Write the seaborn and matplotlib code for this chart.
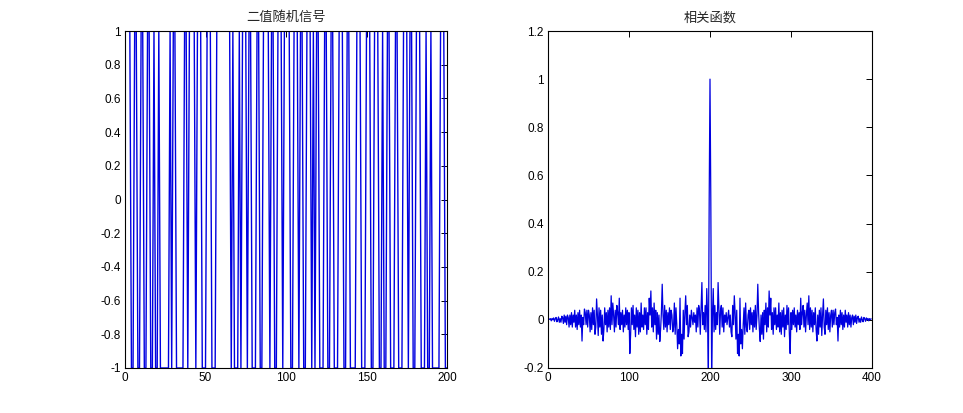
import numpy as np
import pandas as pd
import matplotlib
matplotlib.use("Agg")
import matplotlib.pyplot as plt
import seaborn as sns

# ---------------- data ----------------
left_title = "二值随机信号"
right_title = "相关函数"

# binary random signal, samples 1..200
signal_values = [
    1, 1, 1, -1, -1, 1, 1, -1, -1, 1,
    1, -1, -1, 1, 1, -1, -1, 1, -1, -1,
    1, -1, -1, -1, -1, -1, -1, 1, -1, 1,
    1, -1, -1, -1, -1, -1, 1, 1, -1, 1,
    1, 1, 1, -1, 1, 1, 1, -1, -1, -1,
    1, 1, 1, -1, -1, -1, 1, 1, 1, 1,
    1, 1, 1, 1, 1, -1, 1, -1, -1, -1,
    1, -1, 1, 1, 1, -1, 1, 1, -1, -1,
    -1, 1, 1, -1, -1, 1, 1, 1, 1, -1,
    1, 1, -1, -1, 1, 1, 1, -1, 1, 1,
    1, 1, -1, -1, 1, 1, 1, -1, 1, 1,
    -1, -1, 1, 1, 1, -1, 1, -1, 1, 1,
    -1, -1, -1, 1, 1, -1, -1, 1, 1, -1,
    -1, -1, 1, 1, 1, -1, -1, 1, 1, -1,
    -1, -1, -1, 1, 1, 1, -1, -1, -1, 1,
    1, 1, -1, -1, 1, 1, 1, -1, -1, 1,
    -1, -1, 1, 1, -1, -1, -1, 1, 1, -1,
    -1, -1, 1, 1, 1, -1, 1, 1, -1, -1,
    1, 1, 1, -1, -1, -1, 1, -1, -1, 1,
    -1, -1, -1, -1, -1, 1, 1, 1, -1, -1,
]

# correlation: value at zero lag and values at lags 1..199 (symmetric)
corr_peak = 1.0
corr_positive_lags = [
    0.5, -0.21, 0.02, 0.13, -0.05, 0.06, -0.04, 0.03, -0.02, 0.155,
    0.05, -0.06, 0.04, 0.06, -0.03, 0.05, -0.05, 0.02, -0.01, 0.03,
    -0.02, 0.01, 0.04, -0.03, 0.02, -0.05, -0.07, 0.06, -0.02, 0.10,
    0.03, -0.08, 0.04, -0.14, -0.06, -0.15, 0.09, -0.10, -0.04, -0.12,
    -0.02, 0.05, -0.06, 0.07, -0.03, -0.05, 0.02, 0.04, -0.04, 0.05,
    -0.02, 0.03, -0.05, 0.04, -0.03, 0.06, -0.04, 0.02, 0.148, 0.03,
    -0.04, -0.09, 0.02, -0.06, 0.03, -0.08, 0.04, -0.02, 0.07, -0.05,
    0.05, -0.03, 0.12, 0.02, 0.09, -0.04, 0.03, -0.06, 0.05, -0.02,
    0.05, -0.04, 0.02, -0.03, 0.07, -0.05, 0.03, -0.06, 0.04, -0.03,
    0.05, -0.07, 0.02, -0.04, 0.06, -0.02, 0.05, -0.06, -0.14, 0.03,
    -0.04, 0.04, -0.02, 0.05, -0.03, 0.02, -0.05, 0.04, -0.02, 0.03,
    -0.04, 0.09, -0.02, 0.03, 0.06, -0.03, 0.04, -0.05, 0.02, 0.07,
    -0.02, 0.10, -0.04, 0.05, -0.03, 0.04, -0.05, 0.03, -0.02, 0.05,
    -0.04, -0.088, 0.02, -0.06, 0.04, -0.03, 0.05, -0.065, 0.02, 0.087,
    -0.03, -0.06, 0.04, -0.02, 0.05, -0.04, 0.03, -0.05, 0.02, 0.04,
    -0.03, 0.04, -0.02, 0.03, 0.045, -0.02, 0.01, -0.088, 0.02, -0.03,
    0.04, -0.02, 0.03, -0.04, 0.02, -0.03, 0.04, -0.01, 0.02, -0.03,
    0.03, -0.02, 0.02, -0.03, 0.01, 0.02, -0.02, 0.015, -0.01, 0.02,
    -0.015, 0.01, 0.015, -0.01, 0.005, -0.01, 0.012, 0.0, -0.008, 0.01,
    0.005, -0.006, 0.008, 0.0, 0.006, -0.004, 0.005, 0.002, 0.004,
]

left_xticks = [0, 50, 100, 150, 200]
left_yticks = [-1, -0.8, -0.6, -0.4, -0.2, 0, 0.2, 0.4, 0.6, 0.8, 1]
left_ylabels = ["-1", "-0.8", "-0.6", "-0.4", "-0.2", "0", "0.2", "0.4", "0.6", "0.8", "1"]
right_xticks = [0, 100, 200, 300, 400]
right_yticks = [-0.2, 0, 0.2, 0.4, 0.6, 0.8, 1, 1.2]
right_ylabels = ["-0.2", "0", "0.2", "0.4", "0.6", "0.8", "1", "1.2"]

# ---------------- build tables ----------------
sig_df = pd.DataFrame({"n": np.arange(1, len(signal_values) + 1), "v": signal_values})
corr_full = list(reversed(corr_positive_lags)) + [corr_peak] + list(corr_positive_lags)
corr_df = pd.DataFrame({"n": np.arange(1, len(corr_full) + 1), "r": corr_full})

# ---------------- style ----------------
sns.set_style("white")
plt.rcParams["font.family"] = ["Liberation Sans", "Noto Sans CJK SC", "DejaVu Sans"]
plt.rcParams["axes.edgecolor"] = "black"
plt.rcParams["axes.linewidth"] = 0.8

fig = plt.figure(figsize=(9.63, 4.13), dpi=100)
fig.patch.set_facecolor("white")

ax1 = fig.add_axes([125 / 963, 45 / 413, 322 / 963, 337 / 413])
ax2 = fig.add_axes([548 / 963, 45 / 413, 324 / 963, 337 / 413])

line_color = "#0000e0"
sns.lineplot(data=sig_df, x="n", y="v", ax=ax1, color=line_color,
             linewidth=1.0, estimator=None, sort=False)
sns.lineplot(data=corr_df, x="n", y="r", ax=ax2, color=line_color,
             linewidth=0.9, estimator=None, sort=False)

ax1.set_xlim(0, 200)
ax1.set_ylim(-1, 1)
ax1.set_xticks(left_xticks)
ax1.set_xticklabels([str(t) for t in left_xticks])
ax1.set_yticks(left_yticks)
ax1.set_yticklabels(left_ylabels)

ax2.set_xlim(0, 400)
ax2.set_ylim(-0.2, 1.2)
ax2.set_xticks(right_xticks)
ax2.set_xticklabels([str(t) for t in right_xticks])
ax2.set_yticks(right_yticks)
ax2.set_yticklabels(right_ylabels)

for ax, title in ((ax1, left_title), (ax2, right_title)):
    ax.set_xlabel("")
    ax.set_ylabel("")
    ax.set_title(title, fontsize=9.5, pad=7,
                 family=["Noto Sans CJK SC", "DejaVu Sans"])
    ax.tick_params(direction="in", length=4, width=0.7, top=True, right=True,
                   labelsize=8.5, pad=3, colors="black")
    for s in ax.spines.values():
        s.set_visible(True)
        s.set_color("black")
        s.set_linewidth(0.8)

fig.savefig("out.png", dpi=100, facecolor="white")
